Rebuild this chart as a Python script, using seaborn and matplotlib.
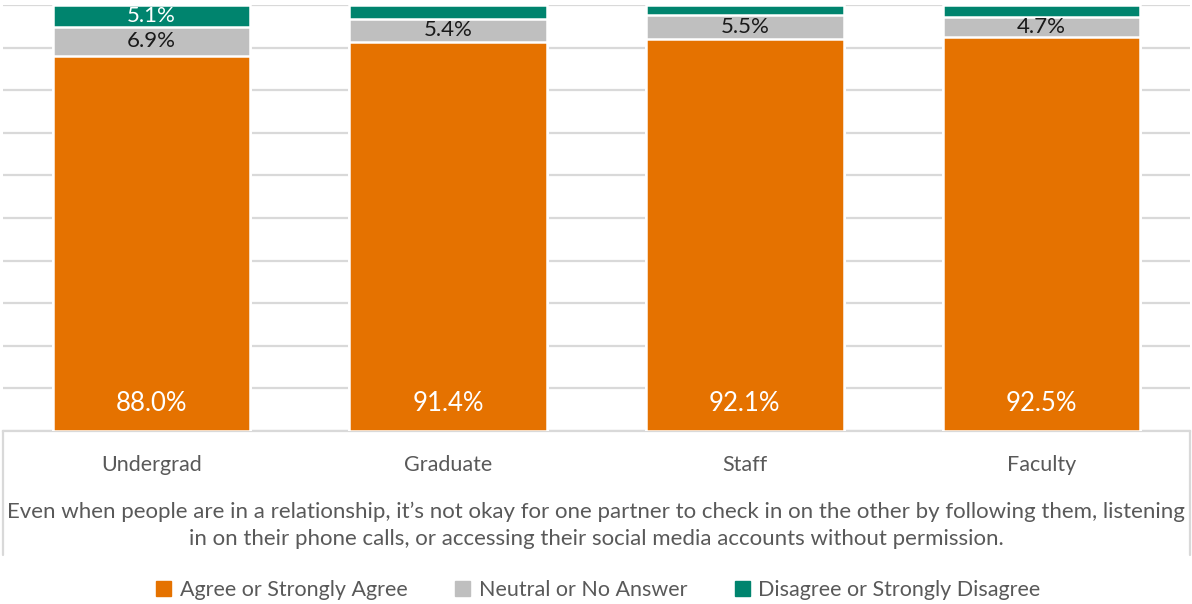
import pandas as pd
import matplotlib.pyplot as plt
import seaborn as sns

# Data
groups = ["Undergrad", "Graduate", "Staff", "Faculty"]
agree = [88.0, 91.4, 92.1, 92.5]
neutral = [6.9, 5.4, 5.5, 4.7]
disagree = [5.1, 3.2, 2.4, 2.8]
neutral_labels = ["6.9%", "5.4%", "5.5%", "4.7%"]
disagree_labels = ["5.1%", "", "", ""]
series_names = ["Agree or Strongly Agree", "Neutral or No Answer", "Disagree or Strongly Disagree"]
question = ("Even when people are in a relationship, it\u2019s not okay for one partner to check in on the other "
            "by following them, listening\nin on their phone calls, or accessing their social media accounts "
            "without permission.")

colors = ["#E57200", "#BFBFBF", "#00846E"]
text_grey = "#595959"

df = pd.DataFrame({"group": groups, "agree": agree, "neutral": neutral, "disagree": disagree})
df["top_neutral"] = df["agree"] + df["neutral"]
df["top_disagree"] = df["top_neutral"] + df["disagree"]

sns.set_theme(style="white")
plt.rcParams["font.family"] = ["Lato", "DejaVu Sans"]

fig = plt.figure(figsize=(11.92, 6.04), dpi=100)
ax = fig.add_axes([3 / 1192, (604 - 431) / 604, 1187 / 1192, 426 / 604])

# stacked bars drawn as overlaid cumulative heights
for col, c in zip(["top_disagree", "top_neutral", "agree"], colors[::-1]):
    sns.barplot(data=df, x="group", y=col, color=c, width=0.665, ax=ax,
                edgecolor="white", linewidth=1.8, saturation=1, zorder=3)

ax.set_ylim(0, 100)
ax.set_xlim(-0.5, 3.5)
ax.set_yticks(range(0, 101, 10))
ax.set_yticklabels([])
ax.yaxis.grid(True, color="#D9D9D9", linewidth=1.6, zorder=0)
ax.set_axisbelow(True)
ax.set_xlabel("")
ax.set_ylabel("")
ax.tick_params(axis="x", length=0, pad=17, labelsize=15.5, labelcolor=text_grey)
ax.tick_params(axis="y", length=0)
for s in ["top", "left", "right"]:
    ax.spines[s].set_visible(False)
ax.spines["bottom"].set_color("#D9D9D9")
ax.spines["bottom"].set_linewidth(1.6)

# data labels
for i in range(len(groups)):
    ax.text(i, 3.6, f"{agree[i]:.1f}%", ha="center", va="bottom", color="white", fontsize=18.5, zorder=5)
    ax.text(i, agree[i] + neutral[i] / 2, neutral_labels[i], ha="center", va="center",
            color="#1a1a1a", fontsize=16, zorder=5)
    if disagree_labels[i]:
        ax.text(i, agree[i] + neutral[i] + disagree[i] / 2, disagree_labels[i], ha="center", va="center",
                color="white", fontsize=16, zorder=5)

# multi-level category box lines
ax.plot([0, 0], [0, -0.29], transform=ax.transAxes, color="#D9D9D9", lw=1.6, clip_on=False)
ax.plot([1, 1], [0, -0.29], transform=ax.transAxes, color="#D9D9D9", lw=1.6, clip_on=False)

fig.text(0.5, (604 - 525) / 604, question, ha="center", va="center", fontsize=16,
         color=text_grey, linespacing=1.42)

handles = [plt.Rectangle((0, 0), 1, 1, color=c) for c in colors]
fig.legend(handles, series_names, loc="center", bbox_to_anchor=(0.502, (604 - 590) / 604), ncol=3,
           frameon=False, fontsize=15.5, labelcolor=text_grey, handlelength=0.7, handleheight=0.7,
           handletextpad=0.4, columnspacing=2.2)

fig.savefig("out.png", dpi=100)
